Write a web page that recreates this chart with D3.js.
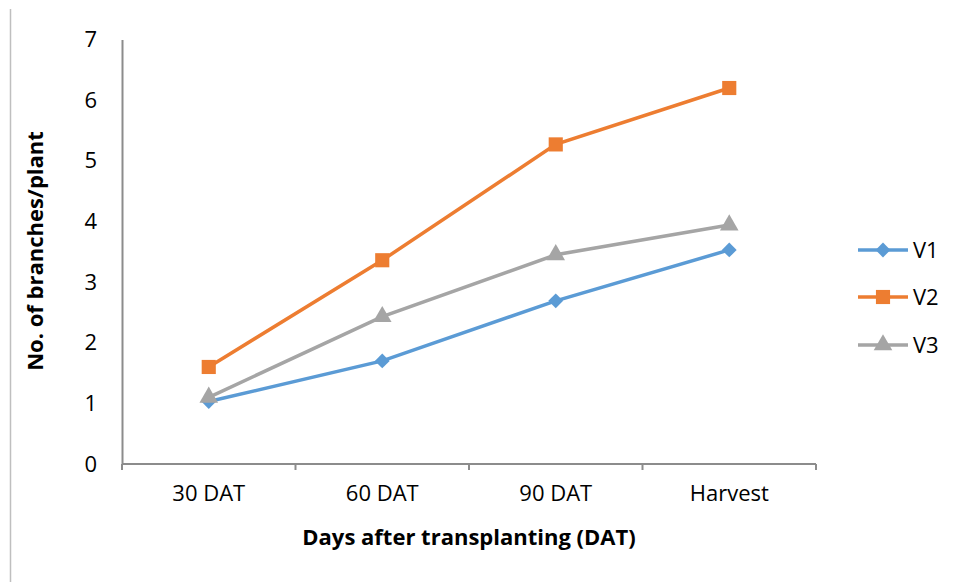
<!DOCTYPE html>
<html><head><meta charset="utf-8">
<script src="https://cdn.jsdelivr.net/npm/d3@7"></script>
<style>body{margin:0;background:#fff}svg{display:block;font-family:"Open Sans",sans-serif}</style>
</head><body>
<script>
const categories = ["30 DAT","60 DAT","90 DAT","Harvest"];
const seriesNames = ["V1","V2","V3"];
const v1 = [1.03, 1.70, 2.69, 3.53];
const v2 = [1.60, 3.36, 5.27, 6.20];
const v3 = [1.10, 2.43, 3.45, 3.94];
const yTicks = [0,1,2,3,4,5,6,7];
const colors = ["#5b9bd5","#ed7d31","#a5a5a5"];
const seriesData = [v1, v2, v3];
const FONT = '"Open Sans",sans-serif';
const FS = 22;

const W = 957, H = 582;
const svg = d3.select("body").append("svg").attr("width", W).attr("height", H);

svg.append("line").attr("x1",10.5).attr("x2",10.5).attr("y1",9).attr("y2",H).attr("stroke","#bfbfbf").attr("stroke-width",1.5);

const x = d3.scaleBand().domain(categories).range([122, 816]);
const y = d3.scaleLinear().domain([0,7]).range([464, 39.5]);

const ya = svg.append("g").attr("transform","translate(122,0)")
  .call(d3.axisLeft(y).tickValues(yTicks).tickFormat(d3.format("d")).tickSize(0).tickPadding(25));
ya.select(".domain").attr("stroke","#8c8c8c").attr("stroke-width",2);
ya.selectAll("text").attr("font-size",FS).attr("fill","#000").attr("font-family",FONT);

const xa = svg.append("g").attr("transform","translate(0,464)")
  .call(d3.axisBottom(x).tickSize(0).tickPadding(21));
xa.select(".domain").attr("stroke","#8c8c8c").attr("stroke-width",2).attr("d","M122,0H816");
xa.selectAll("text").attr("font-size",FS).attr("fill","#000").attr("font-family",FONT);
const bounds = categories.map(c => x(c)).concat([x.range()[1]]);
svg.append("g").selectAll("line").data(bounds).join("line")
  .attr("x1",d=>d).attr("x2",d=>d).attr("y1",464).attr("y2",470)
  .attr("stroke","#8c8c8c").attr("stroke-width",2);

const cx = c => x(c) + x.bandwidth()/2;

function marker(k){
  if (k===0) return {d: d3.symbol().type(d3.symbolSquare).size(110)(), rot: 45};
  if (k===1) return {d: d3.symbol().type(d3.symbolSquare).size(200)(), rot: 0};
  return {d: d3.symbol().type(d3.symbolTriangle).size(150)(), rot: 0};
}

const line = d3.line().x((d,i)=>cx(categories[i])).y(d=>y(d));
seriesData.forEach((s,k) => {
  svg.append("path").datum(s).attr("d", line).attr("fill","none")
    .attr("stroke", colors[k]).attr("stroke-width",3.5);
});
seriesData.forEach((s,k) => {
  const m = marker(k);
  svg.append("g").selectAll("path").data(s).join("path")
    .attr("transform",(d,i)=>`translate(${cx(categories[i])},${y(d)}) rotate(${m.rot})`)
    .attr("d", m.d).attr("fill", colors[k]);
});

svg.append("text").attr("x",469).attr("y",545).attr("text-anchor","middle").attr("font-family",FONT)
  .attr("font-size",FS).attr("font-weight","bold").text("Days after transplanting (DAT)");
svg.append("text").attr("transform","translate(43,251) rotate(-90)").attr("text-anchor","middle").attr("font-family",FONT)
  .attr("font-size",FS).attr("font-weight","bold").text("No. of branches/plant");

const legY = [250, 297, 345];
seriesNames.forEach((n,k) => {
  const g = svg.append("g").attr("transform",`translate(0,${legY[k]})`);
  g.append("line").attr("x1",858).attr("x2",908).attr("y1",0).attr("y2",0).attr("stroke",colors[k]).attr("stroke-width",3.5);
  const m = marker(k);
  g.append("path").attr("transform",`translate(883,0) rotate(${m.rot})`).attr("d", m.d).attr("fill",colors[k]);
  g.append("text").attr("x",913).attr("y",0).attr("dy","0.35em").attr("font-size",FS).attr("font-family",FONT).text(n);
});
</script>
</body></html>
